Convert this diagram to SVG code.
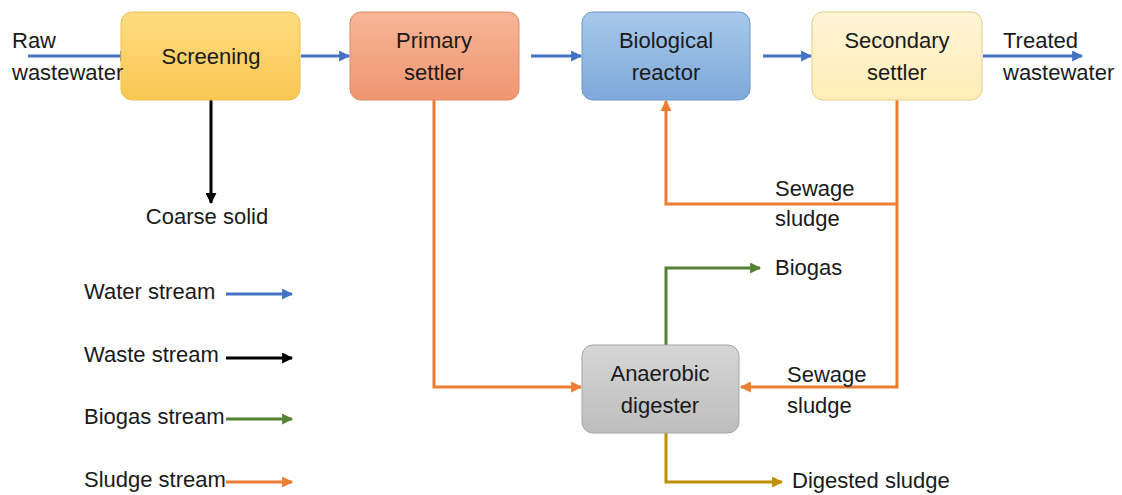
<svg xmlns="http://www.w3.org/2000/svg" width="1122" height="495" viewBox="0 0 1122 495">
<defs>
<style>
.t{font-family:"Liberation Sans",Arial,sans-serif;font-size:22px;fill:#1a1a1a}
.m{text-anchor:middle}
.c{fill:none;stroke-width:3}
.blue{stroke:#4472C4}.blk{stroke:#000}.grn{stroke:#548235}.org{stroke:#ED7D31}.gold{stroke:#BF9000}
</style>
<linearGradient id="gScr" x1="0" y1="0" x2="0" y2="1"><stop offset="0" stop-color="#FFDC80"/><stop offset="1" stop-color="#F9C752"/></linearGradient>
<linearGradient id="gPri" x1="0" y1="0" x2="0" y2="1"><stop offset="0" stop-color="#F7B597"/><stop offset="1" stop-color="#F09670"/></linearGradient>
<linearGradient id="gBio" x1="0" y1="0" x2="0" y2="1"><stop offset="0" stop-color="#A7C8EA"/><stop offset="1" stop-color="#7EA9D9"/></linearGradient>
<linearGradient id="gSec" x1="0" y1="0" x2="0" y2="1"><stop offset="0" stop-color="#FFF4D6"/><stop offset="1" stop-color="#FFEDB8"/></linearGradient>
<linearGradient id="gAna" x1="0" y1="0" x2="0" y2="1"><stop offset="0" stop-color="#D6D6D6"/><stop offset="1" stop-color="#BDBDBD"/></linearGradient>
<marker id="aB" viewBox="0 0 10 10" refX="9" refY="5" markerWidth="12" markerHeight="11" markerUnits="userSpaceOnUse" orient="auto"><path d="M0,0L10,5L0,10z" fill="#4472C4"/></marker>
<marker id="aK" viewBox="0 0 10 10" refX="9" refY="5" markerWidth="12" markerHeight="11" markerUnits="userSpaceOnUse" orient="auto"><path d="M0,0L10,5L0,10z" fill="#000"/></marker>
<marker id="aG" viewBox="0 0 10 10" refX="9" refY="5" markerWidth="12" markerHeight="11" markerUnits="userSpaceOnUse" orient="auto"><path d="M0,0L10,5L0,10z" fill="#548235"/></marker>
<marker id="aO" viewBox="0 0 10 10" refX="9" refY="5" markerWidth="12" markerHeight="11" markerUnits="userSpaceOnUse" orient="auto"><path d="M0,0L10,5L0,10z" fill="#ED7D31"/></marker>
<marker id="aY" viewBox="0 0 10 10" refX="9" refY="5" markerWidth="12" markerHeight="11" markerUnits="userSpaceOnUse" orient="auto"><path d="M0,0L10,5L0,10z" fill="#BF9000"/></marker>
</defs>
<rect width="1122" height="495" fill="#fff"/>
<g id="connectors">
<path class="c blue" d="M28,56H130" marker-end="url(#aB)"/>
<path class="c blue" d="M301,56H349" marker-end="url(#aB)"/>
<path class="c blue" d="M531,56H581" marker-end="url(#aB)"/>
<path class="c blue" d="M763,56H811" marker-end="url(#aB)"/>
<path class="c blue" d="M983,56H1082" marker-end="url(#aB)"/>
<path class="c blk" d="M211,100V203" marker-end="url(#aK)"/>
<path class="c org" d="M434,100V387H581" marker-end="url(#aO)"/>
<path class="c org" d="M897,100V387H741" marker-end="url(#aO)"/>
<path class="c org" d="M897,204H666V101" marker-end="url(#aO)"/>
<path class="c grn" d="M666,345V268H760" marker-end="url(#aG)"/>
<path class="c gold" d="M666,433V482H782" marker-end="url(#aY)"/>
</g>
<g id="screening"><rect x="121" y="12" width="179" height="88" rx="11" fill="url(#gScr)" stroke="#EEC050" stroke-width="1"/><text class="t m" x="211" y="64">Screening</text></g>
<g id="primary-settler"><rect x="350" y="12" width="169" height="88" rx="11" fill="url(#gPri)" stroke="#DE8A66" stroke-width="1"/><text class="t m" x="434" y="48">Primary</text><text class="t m" x="434" y="80">settler</text></g>
<g id="biological-reactor"><rect x="582" y="12" width="168" height="88" rx="11" fill="url(#gBio)" stroke="#6D97C7" stroke-width="1"/><text class="t m" x="666" y="48">Biological</text><text class="t m" x="666" y="80">reactor</text></g>
<g id="secondary-settler"><rect x="812" y="12" width="170" height="88" rx="11" fill="url(#gSec)" stroke="#E2CB86" stroke-width="1"/><text class="t m" x="897" y="48">Secondary</text><text class="t m" x="897" y="80">settler</text></g>
<g id="anaerobic-digester"><rect x="582" y="345" width="157" height="88" rx="11" fill="url(#gAna)" stroke="#A5A5A5" stroke-width="1"/><text class="t m" x="660" y="381">Anaerobic</text><text class="t m" x="660" y="413">digester</text></g>
<g id="labels">
<text class="t" x="12" y="48">Raw</text>
<text class="t" x="12" y="80">wastewater</text>
<text class="t" x="1003" y="48">Treated</text>
<text class="t" x="1003" y="80">wastewater</text>
<text class="t m" x="207" y="224">Coarse solid</text>
<text class="t" x="775" y="196">Sewage</text>
<text class="t" x="775" y="226">sludge</text>
<text class="t" x="787" y="382">Sewage</text>
<text class="t" x="787" y="413">sludge</text>
<text class="t" x="775" y="275">Biogas</text>
<text class="t" x="792" y="488">Digested sludge</text>
</g>
<g id="legend">
<text class="t" x="84" y="299">Water stream</text>
<path class="c blue" d="M226,294H292" marker-end="url(#aB)"/>
<text class="t" x="84" y="362">Waste stream</text>
<path class="c blk" d="M226,358H292" marker-end="url(#aK)"/>
<text class="t" x="84" y="424">Biogas stream</text>
<path class="c grn" d="M226,419H292" marker-end="url(#aG)"/>
<text class="t" x="84" y="487">Sludge stream</text>
<path class="c org" d="M226,482H292" marker-end="url(#aO)"/>
</g>
</svg>
